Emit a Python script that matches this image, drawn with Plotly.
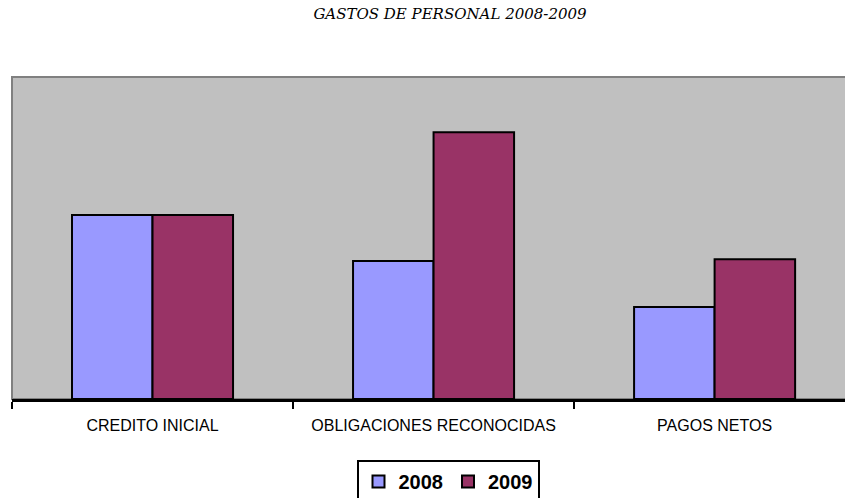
import plotly.graph_objects as go

categories = ["CREDITO INICIAL", "OBLIGACIONES RECONOCIDAS", "PAGOS NETOS"]
values_2008 = [2000, 1500, 1000]
values_2009 = [2000, 2900, 1520]
series_names = ["2008", "2009"]
title_text = "GASTOS DE PERSONAL 2008-2009"

fig = go.Figure()
fig.add_trace(go.Bar(name=series_names[0], x=categories, y=values_2008,
                     marker=dict(color="#9999FF", line=dict(color="black", width=2))))
fig.add_trace(go.Bar(name=series_names[1], x=categories, y=values_2009,
                     marker=dict(color="#993366", line=dict(color="black", width=2))))

W, H = 845, 498
fig.update_layout(
    width=W, height=H,
    margin=dict(l=12, r=0, t=77, b=99, autoexpand=False),
    paper_bgcolor="white",
    plot_bgcolor="#C0C0C0",
    barmode="group",
    bargap=0.427,
    bargroupgap=0,
    title=dict(text=title_text, x=450 / W, xref="container", xanchor="center",
               y=1 - 14 / H, yref="container", yanchor="middle",
               font=dict(family="DejaVu Serif", size=15, color="black", style="italic")),
    showlegend=True,
    legend=dict(orientation="h", x=(448 - 12) / 833, xref="paper", xanchor="center",
                y=-61 / 322, yanchor="top",
                bordercolor="black", borderwidth=2, bgcolor="white",
                font=dict(family="Arial, Liberation Sans", size=20, color="black", weight="bold"),
                itemwidth=30, tracegroupgap=0),
    shapes=[dict(type="rect", xref="paper", yref="paper", x0=0, x1=1.01, y0=0, y1=1,
                 line=dict(color="#808080", width=2), layer="below")],
)
fig.update_xaxes(
    type="category", range=[-0.5, 2.464],
    showline=True, linecolor="black", linewidth=3,
    ticks="outside", tickson="boundaries", ticklen=7, tickwidth=2, tickcolor="black",
    ticklabelstandoff=10,
    tickfont=dict(family="Arial, Liberation Sans", size=16, color="black"),
    showgrid=False, zeroline=False,
)
fig.update_yaxes(range=[0, 3500], showticklabels=False, showgrid=False, zeroline=False,
                 ticks="", showline=False)

fig.write_html("out.html", config={"displayModeBar": False},
               post_script="document.body.style.margin='0px';document.body.style.overflow='hidden';")
